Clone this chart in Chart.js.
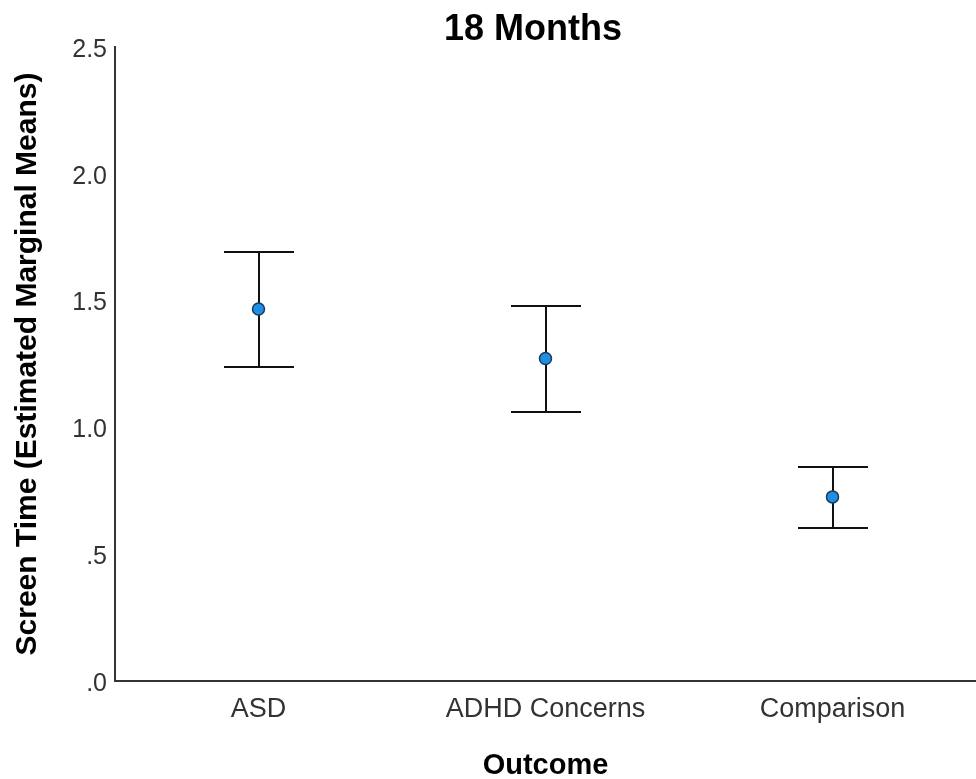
<!DOCTYPE html>
<html>
<head>
<meta charset="utf-8">
<script src="https://cdn.jsdelivr.net/npm/chart.js@4/dist/chart.umd.min.js"></script>
<style>
  html, body { margin: 0; padding: 0; background: #fff; }
  #wrap { width: 976px; height: 779px; }
</style>
</head>
<body>
<div id="wrap"><canvas id="chart" width="976" height="779"></canvas></div>
<script>
// Estimated marginal means of screen time at 18 months, with 95% CI
const categories = ['ASD', 'ADHD Concerns', 'Comparison'];
const means = [1.467, 1.272, 0.726];
const lowerCI = [1.239, 1.061, 0.603];
const upperCI = [1.693, 1.479, 0.844];
const yTickValues = [0, 0.5, 1.0, 1.5, 2.0, 2.5];

const FONT = "'Liberation Sans', Arial, sans-serif";

// SPSS-style tick text: drop the leading zero (".5", ".0")
function formatTick(v) {
  const s = Number(v).toFixed(1);
  return s.startsWith('0') ? s.slice(1) : s;
}

// Error bars: whisker plus caps, placed through the chart's scales
const errorBars = {
  id: 'errorBars',
  beforeDatasetsDraw(chart) {
    const { ctx, scales: { x, y } } = chart;
    const capHalf = 35;
    ctx.save();
    ctx.strokeStyle = '#111';
    ctx.lineWidth = 2;
    ctx.lineCap = 'butt';
    categories.forEach((c, i) => {
      const px = Math.round(x.getPixelForValue(i));
      const yLo = Math.round(y.getPixelForValue(lowerCI[i]));
      const yHi = Math.round(y.getPixelForValue(upperCI[i]));
      ctx.beginPath();
      ctx.moveTo(px, yLo);
      ctx.lineTo(px, yHi);
      ctx.moveTo(px - capHalf, yLo);
      ctx.lineTo(px + capHalf, yLo);
      ctx.moveTo(px - capHalf, yHi);
      ctx.lineTo(px + capHalf, yHi);
      ctx.stroke();
    });
    ctx.restore();
  }
};

// Chart heading, centred a little left of the plot's middle
const heading = {
  id: 'heading',
  afterDraw(chart) {
    const { ctx } = chart;
    ctx.save();
    ctx.font = `bold 36px ${FONT}`;
    ctx.fillStyle = '#000';
    ctx.textAlign = 'center';
    ctx.textBaseline = 'middle';
    ctx.fillText('18 Months', 533, 30);
    ctx.restore();
  }
};

new Chart(document.getElementById('chart'), {
  type: 'line',
  data: {
    labels: categories,
    datasets: [{
      data: means,
      showLine: false,
      pointRadius: 6,
      pointHoverRadius: 6,
      pointBackgroundColor: '#1e8fe6',
      pointBorderColor: '#1b3a57',
      pointBorderWidth: 1.5
    }]
  },
  options: {
    responsive: false,
    animation: false,
    events: [],
    layout: { autoPadding: false, padding: { top: 47, right: 0, bottom: 0, left: 0 } },
    plugins: {
      legend: { display: false },
      tooltip: { enabled: false },
      title: { display: false }
    },
    scales: {
      x: {
        type: 'category',
        offset: true,
        grid: { display: false, drawTicks: false },
        border: { display: true, color: '#333', width: 2 },
        ticks: {
          color: '#333',
          padding: 12,
          font: { family: FONT, size: 27 }
        },
        title: {
          display: true,
          text: 'Outcome',
          color: '#000',
          font: { family: FONT, size: 29, weight: 'bold' },
          padding: { top: 0, bottom: -4 }
        },
        afterFit(scale) { scale.height = 98; }
      },
      y: {
        min: 0,
        max: 2.5,
        afterBuildTicks(scale) {
          scale.ticks = yTickValues.map(v => ({ value: v }));
        },
        grid: { display: false, drawTicks: false },
        border: { display: true, color: '#333', width: 2 },
        ticks: {
          color: '#333',
          padding: 8,
          labelOffset: 3,
          font: { family: FONT, size: 25 },
          callback: (v) => formatTick(v)
        },
        title: {
          display: true,
          text: 'Screen Time (Estimated Marginal Means)',
          color: '#000',
          font: { family: FONT, size: 30, weight: 'bold' },
          padding: { top: 10, bottom: 0 }
        },
        afterFit(scale) { scale.width = 115; }
      }
    }
  },
  plugins: [errorBars, heading]
});
</script>
</body>
</html>
